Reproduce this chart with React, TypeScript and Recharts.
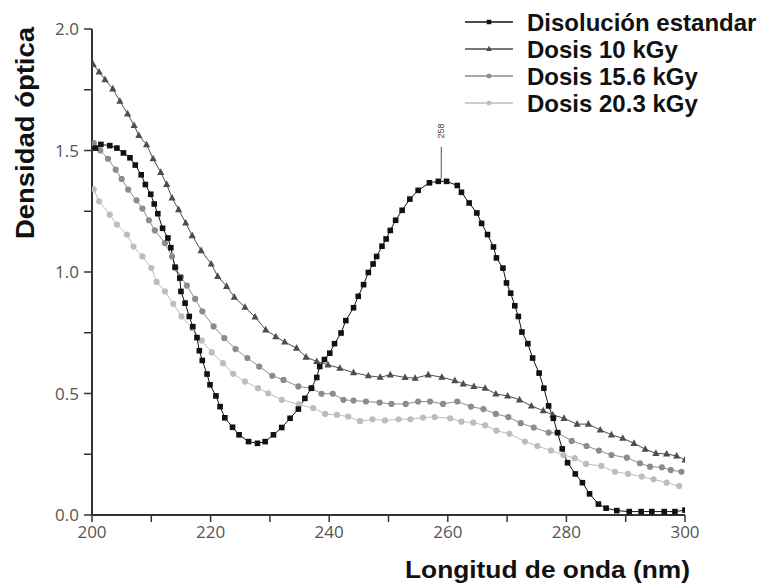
import React from 'react';
import { LineChart, Line, XAxis, YAxis, Legend, ReferenceLine, ReferenceDot, Label } from 'recharts';

// Absorption spectra (wavelength in nm, optical density)
const stdX = [200.6, 201.5, 203.0, 204.2, 205.3, 206.4, 207.3, 208.3, 209.0, 209.9, 210.5, 211.1, 211.9, 212.8, 213.3, 214.0, 214.8, 215.0, 215.7, 216.4, 217.0, 217.7, 218.1, 218.6, 219.4, 219.9, 220.9, 221.6, 222.4, 223.7, 224.8, 226.4, 227.9, 229.2, 230.6, 232.0, 233.4, 234.8, 235.9, 237.0, 237.9, 238.4, 239.2, 240.1, 240.9, 242.0, 242.8, 244.1, 244.9, 245.8, 246.6, 247.4, 248.0, 248.9, 249.6, 250.3, 251.2, 252.3, 253.6, 255.0, 256.9, 258.4, 259.8, 261.6, 262.3, 263.6, 264.9, 265.7, 266.7, 267.7, 268.2, 269.3, 269.9, 270.6, 271.3, 271.9, 272.5, 273.5, 274.3, 275.4, 276.2, 277.0, 277.8, 278.5, 279.3, 280.2, 281.5, 282.7, 283.9, 285.4, 286.7, 288.5, 290.6, 292.6, 294.4, 296.5, 298.3, 300.0];
const stdY = [1.51, 1.525, 1.52, 1.51, 1.49, 1.47, 1.44, 1.40, 1.36, 1.32, 1.28, 1.24, 1.18, 1.14, 1.10, 1.02, 0.975, 0.92, 0.872, 0.817, 0.775, 0.73, 0.676, 0.636, 0.58, 0.536, 0.49, 0.446, 0.40, 0.361, 0.33, 0.302, 0.295, 0.302, 0.33, 0.36, 0.398, 0.436, 0.48, 0.522, 0.566, 0.611, 0.64, 0.666, 0.705, 0.749, 0.80, 0.853, 0.90, 0.948, 0.998, 1.033, 1.064, 1.106, 1.136, 1.171, 1.213, 1.254, 1.30, 1.336, 1.367, 1.373, 1.373, 1.356, 1.328, 1.284, 1.243, 1.20, 1.154, 1.103, 1.058, 1.016, 0.955, 0.913, 0.861, 0.817, 0.753, 0.705, 0.646, 0.584, 0.522, 0.449, 0.398, 0.339, 0.272, 0.215, 0.169, 0.133, 0.087, 0.045, 0.028, 0.018, 0.014, 0.014, 0.014, 0.014, 0.014, 0.02];

const d10X = [200.2, 201.2, 202.2, 203.5, 204.7, 206.0, 207.1, 207.9, 209.2, 210.3, 211.6, 212.6, 213.5, 214.6, 215.8, 216.9, 218.4, 220.1, 221.2, 222.7, 224.0, 225.8, 227.5, 229.3, 231.0, 232.5, 234.5, 236.1, 237.9, 239.8, 241.8, 244.1, 246.6, 248.6, 250.3, 252.8, 254.5, 256.7, 259.0, 261.2, 262.6, 264.4, 266.3, 268.1, 270.1, 272.1, 274.1, 276.1, 277.7, 279.6, 281.8, 283.7, 285.7, 287.6, 289.5, 291.4, 293.3, 295.1, 296.9, 298.6, 300.0];
const d10Y = [1.854, 1.823, 1.792, 1.754, 1.703, 1.651, 1.603, 1.562, 1.524, 1.466, 1.41, 1.36, 1.305, 1.257, 1.202, 1.15, 1.088, 1.033, 0.982, 0.941, 0.897, 0.855, 0.815, 0.762, 0.734, 0.712, 0.687, 0.65, 0.632, 0.618, 0.604, 0.586, 0.573, 0.567, 0.577, 0.566, 0.563, 0.577, 0.567, 0.553, 0.54, 0.529, 0.522, 0.498, 0.49, 0.474, 0.449, 0.429, 0.412, 0.398, 0.374, 0.374, 0.35, 0.33, 0.316, 0.295, 0.271, 0.254, 0.251, 0.243, 0.227];

const d15X = [200.3, 201.4, 202.7, 204.0, 205.0, 206.1, 207.5, 208.5, 209.6, 210.6, 212.3, 213.5, 214.1, 215.0, 216.0, 217.4, 218.6, 220.5, 222.3, 224.2, 226.2, 228.2, 230.4, 232.3, 234.8, 237.0, 238.7, 240.6, 242.4, 244.1, 246.2, 248.5, 250.5, 252.9, 255.0, 257.0, 259.2, 261.6, 263.9, 266.0, 268.1, 270.2, 272.3, 274.5, 277.0, 278.6, 280.9, 283.4, 285.5, 287.6, 290.2, 292.4, 294.1, 296.1, 297.6, 299.4];
const d15Y = [1.53, 1.50, 1.466, 1.421, 1.383, 1.339, 1.295, 1.261, 1.213, 1.171, 1.119, 1.064, 1.016, 0.98, 0.944, 0.889, 0.838, 0.776, 0.728, 0.683, 0.646, 0.611, 0.573, 0.556, 0.529, 0.522, 0.499, 0.499, 0.474, 0.471, 0.467, 0.463, 0.457, 0.457, 0.467, 0.467, 0.457, 0.467, 0.446, 0.436, 0.416, 0.403, 0.378, 0.36, 0.339, 0.337, 0.305, 0.284, 0.265, 0.247, 0.236, 0.213, 0.199, 0.196, 0.185, 0.178];

const d20X = [200.3, 201.2, 203.0, 204.2, 205.9, 207.0, 208.5, 210.0, 210.9, 212.3, 213.7, 215.1, 216.9, 218.5, 220.2, 222.1, 223.8, 225.8, 228.0, 229.7, 232.0, 234.9, 237.3, 239.3, 241.3, 243.2, 245.2, 247.3, 249.4, 251.7, 253.7, 255.8, 257.8, 260.4, 262.3, 264.3, 266.3, 268.2, 270.4, 273.0, 275.1, 277.4, 279.5, 281.4, 283.3, 285.9, 288.2, 290.4, 292.7, 294.7, 296.9, 299.0];
const d20Y = [1.34, 1.291, 1.236, 1.195, 1.154, 1.105, 1.064, 1.016, 0.959, 0.92, 0.869, 0.817, 0.769, 0.718, 0.669, 0.625, 0.581, 0.549, 0.522, 0.501, 0.474, 0.455, 0.44, 0.416, 0.412, 0.405, 0.386, 0.394, 0.389, 0.394, 0.394, 0.401, 0.403, 0.398, 0.384, 0.38, 0.369, 0.347, 0.334, 0.302, 0.284, 0.265, 0.247, 0.234, 0.21, 0.202, 0.178, 0.169, 0.158, 0.147, 0.133, 0.119];

const seriesNames = ['Disolución estandar', 'Dosis 10 kGy', 'Dosis 15.6 kGy', 'Dosis 20.3 kGy'];
const seriesColors = ['#111111', '#4d4d4d', '#8c8c8c', '#bdbdbd'];
const xTicks = [200, 210, 220, 230, 240, 250, 260, 270, 280, 290, 300];
const yTicks = [0, 0.25, 0.5, 0.75, 1, 1.25, 1.5, 1.75, 2];
const peakText = '258';
const peakX = 258.9;
const peakY = 1.373;

const zip = (xs: number[], ys: number[]) => xs.map((x, i) => ({ x, y: ys[i] }));

const stdData = zip(stdX, stdY);
const d10Data = zip(d10X, d10Y);
const d15Data = zip(d15X, d15Y);
const d20Data = zip(d20X, d20Y);

const drawMarker = (kind: number, cx: number, cy: number, key?: string | number, scale = 1) => {
  const color = seriesColors[kind];
  if (kind === 0) {
    const s = 5.6 * scale;
    return <rect key={key} x={cx - s / 2} y={cy - s / 2} width={s} height={s} fill={color} />;
  }
  if (kind === 1) {
    const h = 4 * scale;
    const w = 3.6 * scale;
    return <polygon key={key} points={`${cx},${cy - h} ${cx + w},${cy + h * 0.65} ${cx - w},${cy + h * 0.65}`} fill={color} />;
  }
  return <circle key={key} cx={cx} cy={cy} r={3.1 * scale} fill={color} />;
};

const dotFor = (kind: number) => (props: any) => drawMarker(kind, props.cx, props.cy, `d${kind}-${props.index}`);

const renderLegend = () => (
  <svg width={310} height={112}>
    {seriesNames.map((name, i) => {
      const y = 14 + i * 27;
      return (
        <g key={name}>
          <line x1={0} x2={48} y1={y} y2={y} stroke={seriesColors[i]} strokeWidth={1.5} />
          {drawMarker(i, 24, y, undefined, 0.8)}
          <text
            x={62}
            y={y}
            dominantBaseline="central"
            fontFamily="'Liberation Sans', Arial, sans-serif"
            fontWeight="bold"
            fontSize={24}
            fill="#111"
          >
            {name}
          </text>
        </g>
      );
    })}
  </svg>
);

const YTitle = () => (
  <text
    x={17}
    y={125}
    transform="rotate(-90 17 125)"
    textAnchor="middle"
    dominantBaseline="central"
    fontFamily="'Liberation Sans', Arial, sans-serif"
    fontWeight="bold"
    fontSize={25}
    textLength={212}
    lengthAdjust="spacingAndGlyphs"
    fill="#111"
  >
    Densidad óptica
  </text>
);

const XTitle = () => (
  <text
    x={682}
    y={570}
    textAnchor="end"
    fontFamily="'Liberation Sans', Arial, sans-serif"
    fontWeight="bold"
    fontSize={24}
    textLength={285}
    lengthAdjust="spacingAndGlyphs"
    fill="#111"
  >
    Longitud de onda (nm)
  </text>
);

const PeakText = (props: any) => (
  <text
    x={props.cx}
    y={props.cy}
    transform={`rotate(-90 ${props.cx} ${props.cy})`}
    textAnchor="middle"
    dominantBaseline="central"
    fontFamily="'Liberation Sans', Arial, sans-serif"
    fontSize={9}
    fill="#444"
  >
    {peakText}
  </text>
);

const tickStyle = { fill: '#555', fontSize: 17, fontFamily: "'Open Sans', sans-serif" };

export default function App() {
  return (
    <LineChart width={763} height={578} margin={{ top: 21, right: 86, left: 0, bottom: 0 }}>
      <XAxis
        dataKey="x"
        type="number"
        domain={[200, 300]}
        ticks={xTicks}
        tickFormatter={(v: number) => (v % 20 === 0 ? String(v) : '')}
        height={71}
        tick={tickStyle}
        tickSize={7}
        tickMargin={4}
        axisLine={{ stroke: '#333', strokeWidth: 2 }}
        tickLine={{ stroke: '#333', strokeWidth: 1.5 }}
        allowDataOverflow
      >
        <Label content={<XTitle />} />
      </XAxis>
      <YAxis
        dataKey="y"
        type="number"
        domain={[0, 2]}
        ticks={yTicks}
        tickFormatter={(v: number) => ((v * 2) % 1 === 0 ? v.toFixed(1) : '')}
        width={84}
        tick={tickStyle}
        tickSize={8}
        tickMargin={5}
        axisLine={{ stroke: '#333', strokeWidth: 2 }}
        tickLine={{ stroke: '#333', strokeWidth: 1.5 }}
        allowDataOverflow
      >
        <Label content={<YTitle />} />
      </YAxis>
      <Legend
        layout="vertical"
        align="center"
        verticalAlign="middle"
        content={renderLegend}
        wrapperStyle={{ position: 'absolute', left: 457, top: 0, width: 310, height: 112 }}
      />
      <Line data={d20Data} dataKey="y" name={seriesNames[3]} type="linear" stroke={seriesColors[3]} strokeWidth={1} dot={dotFor(3)} activeDot={false} isAnimationActive={false} />
      <Line data={d15Data} dataKey="y" name={seriesNames[2]} type="linear" stroke={seriesColors[2]} strokeWidth={1} dot={dotFor(2)} activeDot={false} isAnimationActive={false} />
      <Line data={d10Data} dataKey="y" name={seriesNames[1]} type="linear" stroke={seriesColors[1]} strokeWidth={1} dot={dotFor(1)} activeDot={false} isAnimationActive={false} />
      <Line data={stdData} dataKey="y" name={seriesNames[0]} type="linear" stroke={seriesColors[0]} strokeWidth={1} dot={dotFor(0)} activeDot={false} isAnimationActive={false} />
      <ReferenceLine segment={[{ x: peakX, y: peakY + 0.012 }, { x: peakX, y: 1.515 }]} stroke="#555" strokeWidth={1} />
      <ReferenceDot x={peakX} y={1.58} r={0} shape={PeakText} />
    </LineChart>
  );
}
